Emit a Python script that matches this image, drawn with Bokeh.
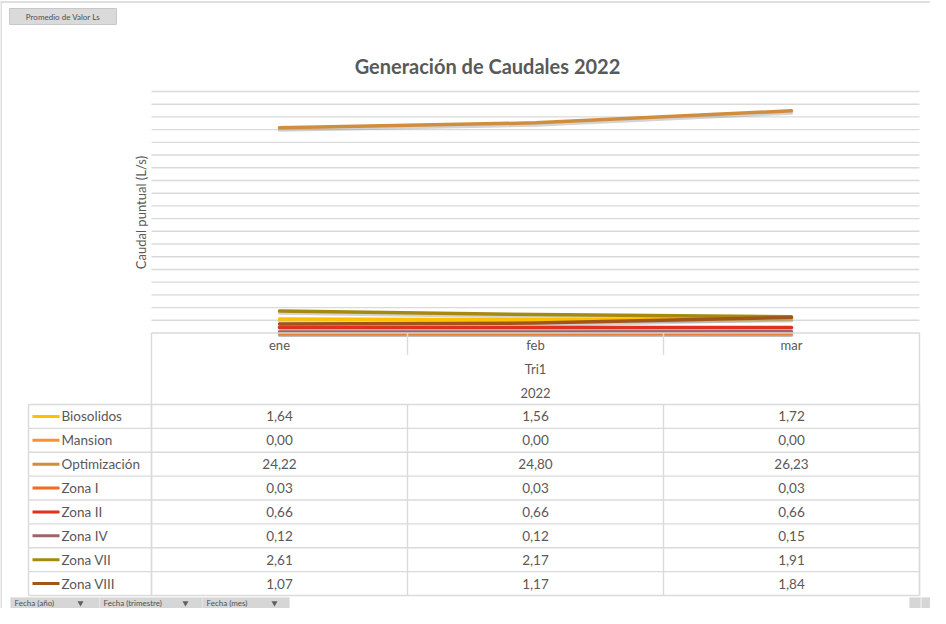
from math import pi
from bokeh.plotting import figure
from bokeh.models import Range1d, ColumnDataSource
from bokeh.core.properties import value
from bokeh.embed import file_html
from bokeh.resources import INLINE

# ---------------- data ----------------
months = ["ene", "feb", "mar"]
quarter = "Tri1"
year = "2022"
series_names = ["Biosolidos", "Mansion", "Optimización", "Zona I", "Zona II",
                "Zona IV", "Zona VII", "Zona VIII"]
biosolidos = [1.64, 1.56, 1.72]
mansion = [0.00, 0.00, 0.00]
optimizacion = [24.22, 24.80, 26.23]
zona_i = [0.03, 0.03, 0.03]
zona_ii = [0.66, 0.66, 0.66]
zona_iv = [0.12, 0.12, 0.15]
zona_vii = [2.61, 2.17, 1.91]
zona_viii = [1.07, 1.17, 1.84]
y_max = 28.5
y_step = 1.5
chart_title = "Generación de Caudales 2022"
y_title = "Caudal puntual (L/s)"
value_field_button = "Promedio de Valor Ls"
filter_buttons = ["Fecha (año)", "Fecha (trimestre)", "Fecha (mes)"]

series_values = [biosolidos, mansion, optimizacion, zona_i, zona_ii,
                 zona_iv, zona_vii, zona_viii]
colors = ["#FFC000", "#F7922E", "#D08D3E", "#F26B21", "#E2301F",
          "#9E6468", "#A68A10", "#A0561A"]

# ---------------- layout (figure pixels) ----------------
W, H = 930, 608
PL, PR = 151, 919          # plot area left/right
PT, PB = 91, 332.5         # y of y_max and of 0
COLW = (PR - PL) / len(months)
K = (PB - PT) / y_max      # px per unit
HDR_BOTTOM = 404
ROW_H = (595 - HDR_BOTTOM) / len(series_names)
LEG_L = 28
GRID = "#DADADA"
TXT = "#595959"
FONT = value("Lato")

p = figure(width=W, height=H, x_range=Range1d(0, W), y_range=Range1d(H, 0),
           x_axis_location=None, y_axis_location=None, title=None,
           min_border=0, min_border_left=0, min_border_right=0,
           min_border_top=0, min_border_bottom=0,
           output_backend="svg", toolbar_location=None)
p.grid.visible = False
p.outline_line_color = None
p.background_fill_color = "white"
p.border_fill_color = "white"

# data ranges (category index on x, value on y)
p.extra_x_ranges["i"] = Range1d(-PL / COLW - 0.5, (W - PL) / COLW - 0.5)
p.extra_y_ranges["v"] = Range1d((PB - H) / K, PB / K)
p.extra_y_ranges["vs"] = Range1d((PB + 2.2 - H) / K, (PB + 2.2) / K)

# chart frame lines
p.segment(x0=[0.5, 0], y0=[1, 1.5], x1=[0.5, W], y1=[H, 1.5], line_color="#D4D4D4", line_width=1.5)

# gridlines
n_grid = int(round(y_max / y_step))
gvals = [y_step * k for k in range(1, n_grid + 1)]
p.segment(x0=[PL] * len(gvals), x1=[PR] * len(gvals), y0=gvals, y1=gvals,
          y_range_name="v", line_color=GRID, line_width=1.4)

# series lines (with soft shadow)
idx = list(range(len(months)))
for vals, col in zip(series_values, colors):
    p.line(idx, vals, x_range_name="i", y_range_name="vs", line_color="#808080",
           line_alpha=0.35, line_width=3.5, line_cap="round")
for vals, col in zip(series_values, colors):
    p.line(idx, vals, x_range_name="i", y_range_name="v", line_color=col,
           line_width=3.5, line_cap="round", line_join="round")

# title + axis title
p.text(x=[487], y=[65], text=[chart_title], text_font=FONT, text_font_size="20px",
       text_font_style="bold", text_color=TXT, text_align="center", text_baseline="middle")
p.text(x=[140], y=[212], text=[y_title], angle=pi / 2, text_font=FONT,
       text_font_size="13px", text_color=TXT, text_align="center", text_baseline="middle")

# ---------------- data table ----------------
TOP = PB
hx0 = [PL, PL + COLW, PL + 2 * COLW, PR, PL, LEG_L]
hy0 = [TOP, TOP, TOP, TOP, TOP, HDR_BOTTOM]
hx1 = [PL, PL + COLW, PL + 2 * COLW, PR, PR, PR]
hy1 = [595, TOP + 22, TOP + 22, 595, TOP, HDR_BOTTOM]
p.segment(x0=hx0, y0=hy0, x1=hx1, y1=hy1, line_color=GRID, line_width=1.4)
rows_y = [HDR_BOTTOM + ROW_H * (r + 1) for r in range(len(series_names))]
p.segment(x0=[LEG_L] * len(rows_y), x1=[PR] * len(rows_y), y0=rows_y, y1=rows_y,
          line_color=GRID, line_width=1.4)
vx = [LEG_L, PL, PL + COLW, PL + 2 * COLW, PR]
p.segment(x0=vx, x1=vx, y0=[HDR_BOTTOM] * len(vx), y1=[595] * len(vx),
          line_color=GRID, line_width=1.4)

hdr = ColumnDataSource(dict(
    x=idx + [1, 1],
    y=[344] * len(months) + [368, 392],
    t=months + [quarter, year]))
p.text(x="x", y="y", text="t", source=hdr, x_range_name="i", text_font=FONT,
       text_font_size="13px", text_color=TXT, text_align="center", text_baseline="middle")

cx, cy, ct = [], [], []
for r, vals in enumerate(series_values):
    for c, v in enumerate(vals):
        cx.append(c)
        cy.append(HDR_BOTTOM + ROW_H * (r + 0.5))
        ct.append(f"{v:.2f}".replace(".", ","))
p.text(x="x", y="y", text="t", source=ColumnDataSource(dict(x=cx, y=cy, t=ct)),
       x_range_name="i", text_font=FONT, text_font_size="13.5px", text_color=TXT,
       text_align="center", text_baseline="middle")

ly = [HDR_BOTTOM + ROW_H * (r + 0.5) for r in range(len(series_names))]
p.segment(x0=[32] * len(ly), x1=[59] * len(ly), y0=ly, y1=ly, line_color=colors, line_width=3)
p.text(x=[61] * len(ly), y=ly, text=series_names, text_font=FONT, text_font_size="13.5px",
       text_color=TXT, text_align="left", text_baseline="middle")

# ---------------- pivot buttons ----------------
p.quad(left=[9], right=[116], top=[8], bottom=[24], fill_color="#DADADA",
       line_color="#C8C8C8", line_width=1)
p.text(x=[62.5], y=[16.5], text=[value_field_button], text_font=FONT, text_font_size="8px",
       text_color="#505050", text_align="center", text_baseline="middle")

bl = [10, 99, 202]
br = [99, 202, 289]
p.quad(left=bl, right=br, top=[597] * 3, bottom=[608] * 3, fill_color="#D6D6D6",
       line_color="#E6E6E6", line_width=1)
p.text(x=[14, 103, 206], y=[602.5] * 3, text=filter_buttons, text_font=FONT,
       text_font_size="8px", text_color="#505050", text_align="left", text_baseline="middle")
p.inverted_triangle(x=[80, 185, 274], y=[602.5] * 3, size=6, fill_color="#606060", line_color=None)
p.quad(left=[909, 921], right=[920, 930], top=[597, 597], bottom=[608, 608],
       fill_color="#D6D6D6", line_color="#E6E6E6")

open("out.html", "w").write(file_html(p, INLINE))
